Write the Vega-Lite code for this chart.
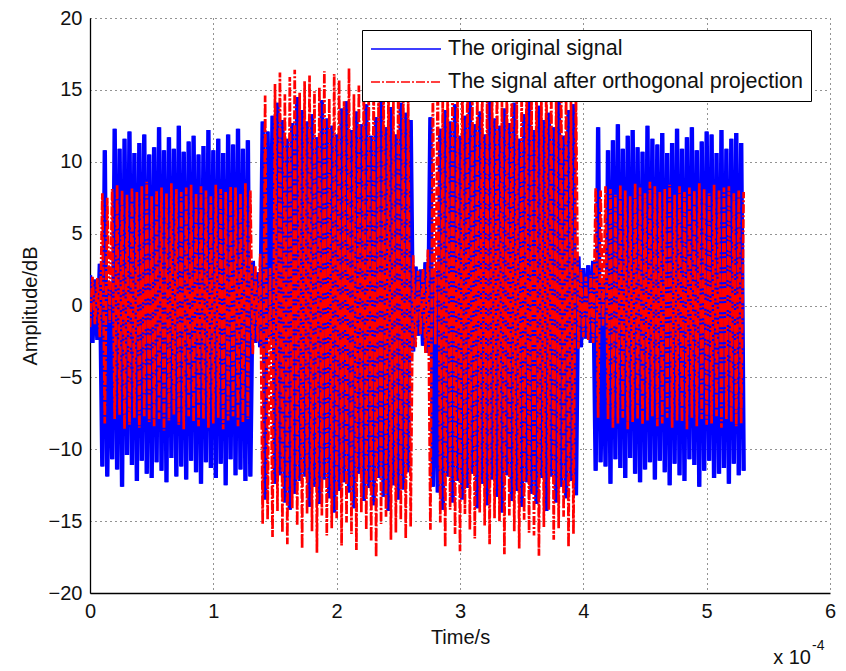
{
"$schema": "https://vega.github.io/schema/vega-lite/v6.json",
"width": 740, "height": 575,
"autosize": "none",
"padding": {"left": 90, "top": 18, "right": 16, "bottom": 78},
"background": "white",
"config": {
  "view": {"stroke": null},
  "font": "Liberation Sans",
  "axis": {"domainColor": "black", "domainWidth": 1.3, "ticks": false, "grid": true, "gridColor": "#000000", "gridDash": [1, 4], "gridOpacity": 0.85, "gridWidth": 1, "labelFont": "Liberation Sans", "labelFontSize": 20, "labelColor": "#111111", "titleFont": "Liberation Sans", "titleFontSize": 20, "titleFontWeight": "normal", "titleColor": "#111111"},
  "legend": {"orient": "none", "legendX": 272, "legendY": 12, "fillColor": "white", "strokeColor": "black", "padding": 8, "labelFont": "Liberation Sans", "labelFontSize": 21.5, "labelColor": "#111111", "labelLimit": 0, "symbolType": "stroke", "symbolSize": 4900, "symbolStrokeWidth": 1.6, "rowPadding": 11, "clipHeight": 22, "labelOffset": 6, "title": null}
},
"data": {"values": [
{"t":0.00,"o":2.1,"r":-1.5},{"t":0.02,"o":-2.6,"r":2.0},{"t":0.04,"o":1.8,"r":-1.3},{"t":0.06,"o":-2.4,"r":1.9},{"t":0.08,"o":2.9,"r":-2.2},
{"t":0.10,"o":-11.2,"r":7.8},{"t":0.12,"o":10.8,"r":-8.2},{"t":0.14,"o":-11.9,"r":7.5},{"t":0.16,"o":1.6,"r":-1.2},
{"t":0.18,"o":-10.7,"r":8.1},{"t":0.20,"o":12.3,"r":-7.9},{"t":0.22,"o":-11.4,"r":8.4},{"t":0.24,"o":10.9,"r":-7.6},{"t":0.26,"o":-12.6,"r":8.0},
{"t":0.28,"o":11.6,"r":-8.6},{"t":0.30,"o":-10.4,"r":7.7},{"t":0.32,"o":12.1,"r":-8.3},{"t":0.34,"o":-11.1,"r":8.2},{"t":0.36,"o":10.6,"r":-7.8},
{"t":0.38,"o":-12.2,"r":7.9},{"t":0.40,"o":11.3,"r":-8.5},{"t":0.42,"o":-10.8,"r":8.3},{"t":0.44,"o":11.9,"r":-7.7},{"t":0.46,"o":-11.7,"r":8.6},
{"t":0.48,"o":10.5,"r":-8.1},{"t":0.50,"o":-12.0,"r":7.6},{"t":0.52,"o":11.0,"r":-8.4},{"t":0.54,"o":-10.9,"r":8.0},{"t":0.56,"o":12.4,"r":-7.9},
{"t":0.58,"o":-11.5,"r":8.2},{"t":0.60,"o":10.8,"r":-8.7},{"t":0.62,"o":-12.3,"r":7.8},{"t":0.64,"o":11.7,"r":-8.0},{"t":0.66,"o":-10.6,"r":8.5},
{"t":0.68,"o":10.9,"r":-7.6},{"t":0.70,"o":-11.9,"r":8.1},{"t":0.72,"o":12.5,"r":-8.3},{"t":0.74,"o":-11.2,"r":7.9},{"t":0.76,"o":10.7,"r":-8.6},
{"t":0.78,"o":-12.1,"r":8.2},{"t":0.80,"o":11.4,"r":-7.7},{"t":0.82,"o":-10.8,"r":8.4},{"t":0.84,"o":11.8,"r":-8.1},{"t":0.86,"o":-11.6,"r":7.8},
{"t":0.88,"o":10.5,"r":-8.4},{"t":0.90,"o":-12.4,"r":8.3},{"t":0.92,"o":11.1,"r":-7.9},{"t":0.94,"o":-10.9,"r":8.0},{"t":0.96,"o":12.2,"r":-8.5},
{"t":0.98,"o":-11.3,"r":7.6},{"t":1.00,"o":10.8,"r":-8.2},{"t":1.02,"o":-12.0,"r":8.4},{"t":1.04,"o":11.6,"r":-7.8},{"t":1.06,"o":-11.0,"r":8.1},
{"t":1.08,"o":10.6,"r":-8.6},{"t":1.10,"o":-12.5,"r":7.9},{"t":1.12,"o":11.9,"r":-8.0},{"t":1.14,"o":-10.7,"r":8.3},{"t":1.16,"o":11.2,"r":-7.7},
{"t":1.18,"o":-11.8,"r":8.2},{"t":1.20,"o":12.3,"r":-8.4},{"t":1.22,"o":-11.4,"r":7.8},{"t":1.24,"o":10.9,"r":-8.1},{"t":1.26,"o":-12.2,"r":8.5},
{"t":1.28,"o":11.5,"r":-7.9},{"t":1.30,"o":-11.9,"r":8.0},
{"t":1.32,"o":3.1,"r":-3.4},{"t":1.34,"o":-2.6,"r":2.8},{"t":1.36,"o":2.3,"r":-2.5},{"t":1.38,"o":-2.9,"r":3.6},
{"t":1.40,"o":12.8,"r":-15.2},{"t":1.42,"o":-13.5,"r":14.6},{"t":1.44,"o":12.1,"r":-14.9},{"t":1.46,"o":-2.2,"r":2.6},
{"t":1.48,"o":13.2,"r":-16.1},{"t":1.50,"o":-12.4,"r":15.4},{"t":1.52,"o":14.1,"r":-14.3},{"t":1.54,"o":-11.8,"r":16.2},{"t":1.56,"o":12.9,"r":-15.8},
{"t":1.58,"o":-13.7,"r":14.7},{"t":1.60,"o":11.6,"r":-16.6},{"t":1.62,"o":-14.2,"r":15.9},{"t":1.64,"o":12.7,"r":-14.1},{"t":1.66,"o":-13.1,"r":16.4},
{"t":1.68,"o":14.5,"r":-15.3},{"t":1.70,"o":-12.2,"r":14.8},{"t":1.72,"o":13.6,"r":-16.9},{"t":1.74,"o":-11.9,"r":15.6},{"t":1.76,"o":12.8,"r":-14.5},
{"t":1.78,"o":-14.0,"r":16.0},{"t":1.80,"o":13.3,"r":-15.7},{"t":1.82,"o":-12.6,"r":14.9},{"t":1.84,"o":11.7,"r":-17.2},{"t":1.86,"o":-13.8,"r":15.2},
{"t":1.88,"o":14.3,"r":-14.6},{"t":1.90,"o":-12.1,"r":16.3},{"t":1.92,"o":13.0,"r":-16.0},{"t":1.94,"o":-13.4,"r":14.4},{"t":1.96,"o":12.5,"r":-15.5},
{"t":1.98,"o":-14.4,"r":16.1},{"t":2.00,"o":11.9,"r":-14.8},{"t":2.02,"o":-12.9,"r":15.7},{"t":2.04,"o":13.7,"r":-16.7},{"t":2.06,"o":-12.3,"r":14.2},
{"t":2.08,"o":14.2,"r":-15.1},{"t":2.10,"o":-13.0,"r":16.5},{"t":2.12,"o":12.2,"r":-15.9},{"t":2.14,"o":-14.1,"r":14.7},{"t":2.16,"o":13.5,"r":-17.0},
{"t":2.18,"o":-11.7,"r":15.3},{"t":2.20,"o":12.6,"r":-14.4},{"t":2.22,"o":-13.6,"r":16.2},{"t":2.24,"o":14.0,"r":-15.6},{"t":2.26,"o":-12.7,"r":14.9},
{"t":2.28,"o":11.8,"r":-16.4},{"t":2.30,"o":-13.9,"r":15.8},{"t":2.32,"o":13.1,"r":-17.5},{"t":2.34,"o":-12.0,"r":14.5},{"t":2.36,"o":14.4,"r":-15.2},
{"t":2.38,"o":-13.3,"r":16.0},{"t":2.40,"o":12.4,"r":-14.7},{"t":2.42,"o":-14.3,"r":15.5},{"t":2.44,"o":13.8,"r":-16.3},{"t":2.46,"o":-12.5,"r":14.3},
{"t":2.48,"o":11.9,"r":-15.8},{"t":2.50,"o":-13.5,"r":16.6},{"t":2.52,"o":14.1,"r":-14.9},{"t":2.54,"o":-12.8,"r":15.1},{"t":2.56,"o":13.4,"r":-16.2},
{"t":2.58,"o":-11.6,"r":14.6},{"t":2.60,"o":12.9,"r":-15.4},
{"t":2.62,"o":-3.2,"r":3.5},{"t":2.64,"o":2.7,"r":-2.9},{"t":2.66,"o":-2.1,"r":2.4},{"t":2.68,"o":2.5,"r":-2.0},{"t":2.70,"o":-2.8,"r":2.6},
{"t":2.72,"o":3.0,"r":-3.3},{"t":2.74,"o":-3.3,"r":3.9},
{"t":2.76,"o":13.1,"r":-15.6},{"t":2.78,"o":-12.6,"r":14.8},{"t":2.80,"o":2.4,"r":-2.7},
{"t":2.82,"o":-13.0,"r":16.3},{"t":2.84,"o":12.3,"r":-15.1},{"t":2.86,"o":-14.2,"r":14.6},{"t":2.88,"o":13.6,"r":-16.8},{"t":2.90,"o":-11.9,"r":15.7},
{"t":2.92,"o":12.8,"r":-14.2},{"t":2.94,"o":-13.7,"r":16.1},{"t":2.96,"o":14.0,"r":-15.9},{"t":2.98,"o":-12.2,"r":14.8},{"t":3.00,"o":11.8,"r":-17.1},
{"t":3.02,"o":-13.5,"r":15.4},{"t":3.04,"o":13.2,"r":-14.5},{"t":3.06,"o":-12.7,"r":16.5},{"t":3.08,"o":14.3,"r":-15.6},{"t":3.10,"o":-11.7,"r":14.9},
{"t":3.12,"o":12.6,"r":-16.2},{"t":3.14,"o":-14.1,"r":15.8},{"t":3.16,"o":13.5,"r":-14.4},{"t":3.18,"o":-12.4,"r":16.0},{"t":3.20,"o":11.9,"r":-15.3},
{"t":3.22,"o":-13.9,"r":14.7},{"t":3.24,"o":14.2,"r":-16.6},{"t":3.26,"o":-12.1,"r":15.5},{"t":3.28,"o":13.0,"r":-14.8},{"t":3.30,"o":-13.3,"r":16.4},
{"t":3.32,"o":12.5,"r":-15.0},{"t":3.34,"o":-14.4,"r":14.3},{"t":3.36,"o":13.7,"r":-17.3},{"t":3.38,"o":-11.8,"r":15.9},{"t":3.40,"o":12.7,"r":-14.6},
{"t":3.42,"o":-13.6,"r":16.2},{"t":3.44,"o":14.1,"r":-15.7},{"t":3.46,"o":-12.9,"r":14.5},{"t":3.48,"o":11.6,"r":-16.9},{"t":3.50,"o":-14.0,"r":15.2},
{"t":3.52,"o":13.3,"r":-14.9},{"t":3.54,"o":-12.3,"r":16.3},{"t":3.56,"o":14.4,"r":-15.8},{"t":3.58,"o":-13.1,"r":14.6},{"t":3.60,"o":12.2,"r":-16.0},
{"t":3.62,"o":-13.8,"r":15.6},{"t":3.64,"o":13.9,"r":-17.4},{"t":3.66,"o":-12.0,"r":14.8},{"t":3.68,"o":12.9,"r":-15.4},{"t":3.70,"o":-14.3,"r":16.5},
{"t":3.72,"o":13.4,"r":-14.2},{"t":3.74,"o":-11.9,"r":15.7},{"t":3.76,"o":12.4,"r":-16.3},{"t":3.78,"o":-13.7,"r":14.9},{"t":3.80,"o":14.2,"r":-15.5},
{"t":3.82,"o":-12.6,"r":16.1},{"t":3.84,"o":11.8,"r":-14.7},{"t":3.86,"o":-13.4,"r":15.3},{"t":3.88,"o":13.6,"r":-16.8},{"t":3.90,"o":-12.2,"r":14.4},
{"t":3.92,"o":14.0,"r":-15.9},{"t":3.94,"o":-13.2,"r":15.0},
{"t":3.96,"o":3.4,"r":-3.0},{"t":3.98,"o":-2.9,"r":2.5},{"t":4.00,"o":2.6,"r":-2.2},{"t":4.02,"o":-2.3,"r":2.0},{"t":4.04,"o":2.8,"r":-2.4},
{"t":4.06,"o":-2.6,"r":2.1},{"t":4.08,"o":3.1,"r":-2.6},
{"t":4.10,"o":-11.5,"r":8.2},{"t":4.12,"o":12.4,"r":-7.8},{"t":4.14,"o":-10.9,"r":8.0},{"t":4.16,"o":1.8,"r":-1.4},
{"t":4.18,"o":-11.2,"r":8.3},{"t":4.20,"o":10.8,"r":-7.9},{"t":4.22,"o":-12.4,"r":8.1},{"t":4.24,"o":11.5,"r":-8.5},{"t":4.26,"o":-10.7,"r":7.7},
{"t":4.28,"o":12.6,"r":-8.2},{"t":4.30,"o":-11.3,"r":8.4},{"t":4.32,"o":10.9,"r":-7.8},{"t":4.34,"o":-12.0,"r":8.0},{"t":4.36,"o":11.8,"r":-8.6},
{"t":4.38,"o":-10.6,"r":7.6},{"t":4.40,"o":12.2,"r":-8.1},{"t":4.42,"o":-11.7,"r":8.5},{"t":4.44,"o":11.0,"r":-7.9},{"t":4.46,"o":-12.3,"r":8.2},
{"t":4.48,"o":10.7,"r":-8.3},{"t":4.50,"o":-11.4,"r":7.8},{"t":4.52,"o":12.5,"r":-8.0},{"t":4.54,"o":-10.9,"r":8.6},{"t":4.56,"o":11.6,"r":-7.7},
{"t":4.58,"o":-12.1,"r":8.3},{"t":4.60,"o":11.2,"r":-8.4},{"t":4.62,"o":-10.8,"r":7.9},{"t":4.64,"o":12.0,"r":-8.2},{"t":4.66,"o":-11.6,"r":8.1},
{"t":4.68,"o":10.6,"r":-7.8},{"t":4.70,"o":-12.5,"r":8.4},{"t":4.72,"o":11.3,"r":-8.5},{"t":4.74,"o":-11.0,"r":7.7},{"t":4.76,"o":12.3,"r":-8.0},
{"t":4.78,"o":-11.8,"r":8.3},{"t":4.80,"o":10.9,"r":-8.1},{"t":4.82,"o":-12.2,"r":7.9},{"t":4.84,"o":11.7,"r":-8.6},{"t":4.86,"o":-10.7,"r":8.2},
{"t":4.88,"o":12.4,"r":-7.8},{"t":4.90,"o":-11.1,"r":8.0},{"t":4.92,"o":10.8,"r":-8.4},{"t":4.94,"o":-12.6,"r":8.5},{"t":4.96,"o":11.4,"r":-7.9},
{"t":4.98,"o":-11.5,"r":8.1},{"t":5.00,"o":12.1,"r":-8.3},{"t":5.02,"o":-10.8,"r":7.8},{"t":5.04,"o":11.9,"r":-8.2},{"t":5.06,"o":-12.0,"r":8.4},
{"t":5.08,"o":10.6,"r":-7.7},{"t":5.10,"o":-11.7,"r":8.0},{"t":5.12,"o":12.2,"r":-8.5},{"t":5.14,"o":-11.3,"r":8.2},{"t":5.16,"o":10.9,"r":-7.9},
{"t":5.18,"o":-12.4,"r":8.3},{"t":5.20,"o":11.6,"r":-8.1},{"t":5.22,"o":-11.0,"r":7.8},{"t":5.24,"o":12.0,"r":-8.4},{"t":5.26,"o":-11.8,"r":8.0},
{"t":5.28,"o":11.3,"r":-8.2},{"t":5.30,"o":-11.5,"r":7.9}
]},
"layer": [
{
"mark": {"type": "line", "clip": true, "strokeWidth": 4.4, "color": "#0000ff"},
"encoding": {
  "x": {"field": "t", "type": "quantitative", "scale": {"domain": [0, 6], "nice": false, "zero": false},
        "axis": {"values": [0,1,2,3,4,5,6], "format": "d", "labelPadding": 8, "title": "Time/s", "titlePadding": 6, "labelFlush": false}},
  "y": {"field": "o", "type": "quantitative", "scale": {"domain": [-20, 20], "nice": false},
        "axis": {"values": [-20,-15,-10,-5,0,5,10,15,20], "format": "d", "labelPadding": 8, "title": "Amplitude/dB", "titlePadding": 8, "labelFlush": false}}
}
},
{
"transform": [{"fold": ["o", "r"], "as": ["s", "v"]}],
"mark": {"type": "line", "clip": true, "strokeWidth": 2.7},
"encoding": {
  "x": {"field": "t", "type": "quantitative", "scale": {"domain": [0, 6], "nice": false, "zero": false},
        "axis": {"values": [0,1,2,3,4,5,6], "format": "d", "labelPadding": 8, "title": "Time/s", "titlePadding": 6, "labelFlush": false}},
  "y": {"field": "v", "type": "quantitative", "scale": {"domain": [-20, 20], "nice": false},
        "axis": {"values": [-20,-15,-10,-5,0,5,10,15,20], "format": "d", "labelPadding": 8, "title": "Amplitude/dB", "titlePadding": 8, "labelFlush": false}},
  "color": {"field": "s", "type": "nominal", "scale": {"domain": ["o", "r"], "range": ["#0000ff", "#ff0000"]},
            "legend": {"labelExpr": "datum.label == 'o' ? 'The original signal' : 'The signal after orthogonal projection'", "symbolStrokeWidth": 1.6}},
  "strokeDash": {"field": "s", "type": "nominal", "scale": {"domain": ["o", "r"], "range": [[1, 0], [9, 2, 2, 2]]},
            "legend": {"labelExpr": "datum.label == 'o' ? 'The original signal' : 'The signal after orthogonal projection'", "symbolStrokeWidth": 1.6}}
}
},
{
"data": {"values": [{"lab": "x 10"}]},
"mark": {"type": "text", "align": "right", "baseline": "alphabetic", "dx": -19, "dy": 71, "fontSize": 20, "color": "#111111", "font": "Liberation Sans"},
"encoding": {"x": {"datum": 6, "type": "quantitative"}, "y": {"datum": -20, "type": "quantitative"}, "text": {"field": "lab", "type": "nominal"}}
},
{
"data": {"values": [{"lab": "-4"}]},
"mark": {"type": "text", "align": "left", "baseline": "alphabetic", "dx": -18, "dy": 57, "fontSize": 14, "color": "#111111", "font": "Liberation Sans"},
"encoding": {"x": {"datum": 6, "type": "quantitative"}, "y": {"datum": -20, "type": "quantitative"}, "text": {"field": "lab", "type": "nominal"}}
}
]
}
